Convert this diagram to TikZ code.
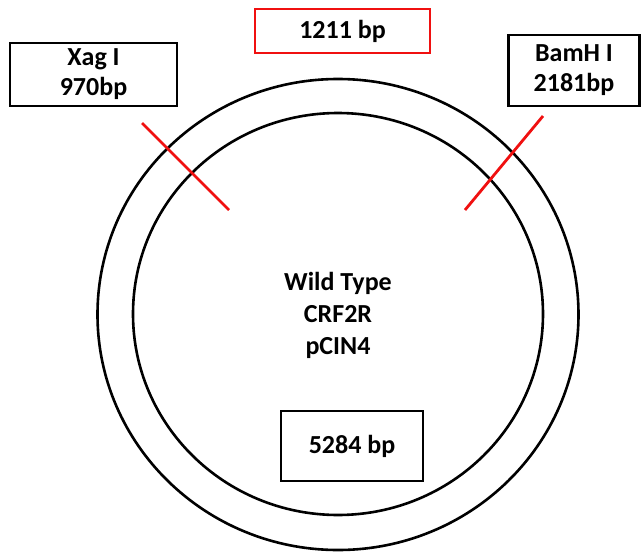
\documentclass[tikz,border=0pt]{standalone}
\usepackage{fontspec}
\setmainfont{Carlito}
\usepackage{xcolor}
\usetikzlibrary{positioning}
\definecolor{PlasmidBlack}{HTML}{000000}
\definecolor{PlasmidRed}{HTML}{F01010}
\tikzset{
    % Label boxes
    sitebox/.style={
        rectangle,
        draw=PlasmidBlack,
        fill=white,
        line width=2.5pt,
        inner sep=0pt,
        align=center,
        font=\fontsize{26}{30}\selectfont\bfseries
    },
    fragbox/.style={
        sitebox,
        draw=PlasmidRed
    },
    % Plasmid ring and cut marks
    ring/.style={
        draw=PlasmidBlack,
        line width=2.6pt
    },
    cutline/.style={
        draw=PlasmidRed,
        line width=2.8pt
    },
    plasmidname/.style={
        align=center,
        font=\fontsize{26}{32}\selectfont\bfseries
    }
}
\begin{document}
\begin{tikzpicture}[x=1pt,y=-1pt]
    \useasboundingbox (0,0) rectangle (641,552);

    % Plasmid rings
    \draw[ring] (338,314.5) ellipse [x radius=240.5, y radius=235.5];
    \draw[ring] (338,314) ellipse [x radius=205, y radius=201];

    % Restriction sites
    \node[sitebox,minimum width=167pt,minimum height=63pt] (xag) at (93.5,74.5) {Xag I\\970bp};
    \node[sitebox,minimum width=131pt,minimum height=71pt] (bamh) at (574,70.5) {BamH I\\2181bp};

    % Fragment sizes
    \node[fragbox,minimum width=175pt,minimum height=44pt] (frag) at (342.5,31) {1211 bp};
    \node[sitebox,minimum width=142pt,minimum height=70pt] (backbone) at (352,446) {5284 bp};

    % Cut marks
    \draw[cutline] (142,123) -- (229,210);
    \draw[cutline] (543,116) -- (465,210);

    % Plasmid name
    \node[plasmidname] (name) at (338,315) {Wild Type\\CRF2R\\pCIN4};
\end{tikzpicture}
\end{document}
